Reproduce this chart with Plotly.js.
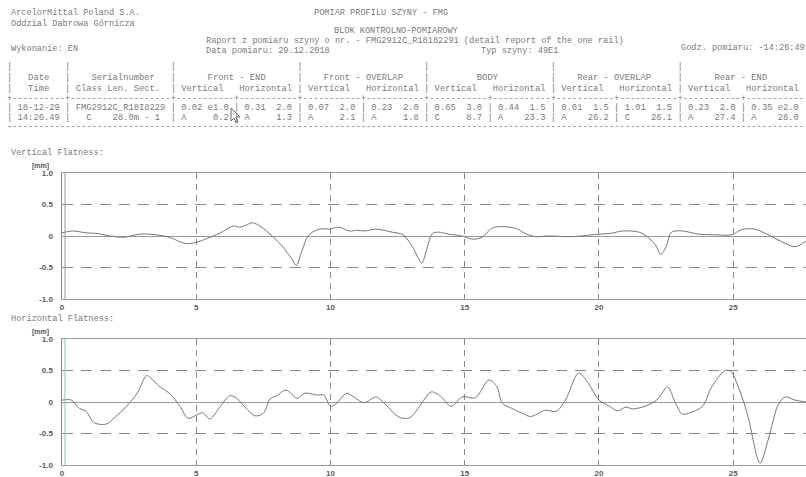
<!DOCTYPE html>
<html><head><meta charset="utf-8">
<script src="https://cdn.plot.ly/plotly-3.0.1.min.js"></script>
<style>html,body{margin:0;padding:0;background:#fff}#chart{width:806px;height:477px}</style>
</head><body><div id="chart"></div>
<script>
// ---------- data ----------
const vertX = [0.0,0.4,0.9,1.3,1.8,2.3,2.9,3.5,4.0,4.6,5.0,5.4,5.9,6.4,6.6,6.9,7.1,7.4,7.85,8.2,8.55,8.73,8.9,9.2,9.6,10.0,10.3,10.7,11.0,11.3,11.7,12.3,12.7,13.05,13.4,13.55,13.8,14.05,14.4,14.9,15.3,15.65,16.0,16.3,16.9,17.3,17.65,18.1,19.0,20.0,20.4,20.9,21.5,21.85,22.1,22.3,22.5,22.7,23.1,23.7,24.3,24.95,25.3,25.8,26.3,26.8,27.3,27.71];
const vertY = [0.05,0.08,0.05,0.04,0.00,-0.02,0.03,0.02,-0.02,-0.12,-0.10,-0.04,0.05,0.16,0.14,0.18,0.21,0.15,-0.01,-0.16,-0.36,-0.47,-0.28,0.02,0.11,0.11,0.14,0.08,0.09,0.08,0.11,0.06,0.02,-0.17,-0.43,-0.26,0.04,0.06,0.03,0.00,-0.05,-0.02,0.12,0.15,0.12,0.03,-0.01,0.00,-0.01,0.03,0.04,0.08,0.06,-0.03,-0.14,-0.29,-0.17,0.06,0.08,0.03,0.02,0.02,0.10,0.11,0.02,-0.09,-0.17,-0.08];
const horX = [0.0,0.35,0.65,0.9,1.2,1.65,1.95,2.4,2.8,3.15,3.3,3.65,4.0,4.4,4.7,5.0,5.25,5.5,5.9,6.25,6.5,6.9,7.2,7.5,7.75,8.0,8.35,8.75,9.05,9.5,9.75,10.0,10.2,10.6,10.8,11.25,11.7,12.05,12.55,12.95,13.3,13.75,14.1,14.5,14.9,15.4,15.9,16.2,16.4,16.75,17.15,17.45,18.0,18.4,18.75,19.25,19.6,20.0,20.4,20.7,21.0,21.25,21.75,22.2,22.55,22.85,23.1,23.4,23.85,24.2,24.7,24.9,25.3,25.55,26.0,26.3,26.7,26.95,27.3,27.71];
const horY = [0.03,0.03,-0.10,-0.15,-0.33,-0.35,-0.25,-0.07,0.14,0.42,0.38,0.24,0.14,-0.07,-0.26,-0.21,-0.17,-0.27,-0.07,0.10,0.06,-0.12,-0.22,-0.18,0.05,0.10,0.19,0.06,0.14,0.11,0.11,-0.07,-0.03,0.14,0.10,-0.01,0.08,-0.04,-0.24,-0.25,-0.08,0.16,0.09,-0.07,0.08,0.07,0.35,0.24,-0.02,-0.10,-0.18,-0.23,-0.13,-0.15,0.03,0.46,0.30,0.03,-0.07,-0.14,-0.08,-0.11,-0.06,0.05,0.24,-0.02,-0.19,-0.17,-0.07,0.24,0.50,0.49,0.11,-0.23,-0.97,-0.60,-0.02,0.08,0.03,0.00];

const xTickVals = [0,5,10,15,20,25];
const xTickText = ['0','5','10','15','20','25'];
const yTickVals = [1,0.5,0,-0.5,-1];
const yTickText = ['1.0','0.5','0','-0.5','-1.0'];

const headerLeft = ['ArcelorMittal Poland S.A.','Oddzial Dabrowa Górnicza'];
const reportTitle = 'POMIAR PROFILU SZYNY - FMG';
const blockTitle = 'BLOK KONTROLNO-POMIAROWY';
const reportLine = 'Raport z pomiaru szyny o nr. - FMG2912C_R18182291 (detail report of the one rail)';
const dateLine = 'Data pomiaru: 29.12.2018';
const railType = 'Typ szyny: 49E1';
const executed = 'Wykonanie: EN';
const hourLine = 'Godz. pomiaru: -14:26:49';

const groupNames = ['Front - END','Front - OVERLAP','BODY','Rear - OVERLAP','Rear - END'];
const row1Cells = ['0.02 e1.0','0.31  2.0','0.07  2.0','0.23  2.0','0.65  3.0','0.44  1.5','0.01  1.5','1.01  1.5','0.23  2.0','0.35 e2.0'];
const row2Cells = ['A     0.2','A     1.3','A     2.1','A     1.8','C     8.7','A    23.3','A    26.2','C    26.1','A    27.4','A    28.0'];
const row1Lead = ['18-12-29','FMG2912C_R18I8229'];
const row2Lead = ['14:26.49','C    28.0m - 1'];

// ---------- helpers ----------
const W = 806, H = 477;
const GREY = '#7a7a7a';
function center(s, w){ const l = Math.floor((w - s.length)/2); return ' '.repeat(l) + s + ' '.repeat(w - s.length - l); }
function nb(s){ return s.replace(/ /g,'\u00a0'); }
function ann(text, x, y, size){
  return {xref:'paper', yref:'paper', x:x/W, y:1-y/H, text:nb(text), showarrow:false,
    xanchor:'left', yanchor:'middle', borderpad:0,
    font:{family:'Liberation Mono, DejaVu Sans Mono, monospace', size:size||8.8, color:GREY}};
}
function sep(ch){
  let s = ch + '-'.repeat(10) + ch + '-'.repeat(19);
  for (let i=0;i<10;i++) s += ch + '-'.repeat(11);
  return s;
}

const tickRow = '|' + ' '.repeat(10) + '|' + ' '.repeat(19) + ('|' + ' '.repeat(23)).repeat(5);
let head1 = '|' + center('Date',10) + '|' + '    Serialnumber   ';
groupNames.forEach(g => head1 += '|' + center(g,23));
let head2 = '|' + center('Time',10) + '|' + ' Class Len. Sect.  ';
groupNames.forEach(() => head2 += '| Vertical   Horizontal ');
let data1 = '| ' + row1Lead[0] + ' | ' + row1Lead[1] + ' ';
row1Cells.forEach(c => data1 += '| ' + c + ' ');
let data2 = '| ' + row2Lead[0] + ' |   ' + row2Lead[1] + '  ';
row2Cells.forEach(c => data2 += '| ' + c + ' ');

const annotations = [
  ann(headerLeft[0], 10, 13, 8.6),
  ann(headerLeft[1], 10, 24, 8.6),
  ann(reportTitle, 313, 13, 8.6),
  ann(blockTitle, 333, 31, 8.6),
  ann(reportLine, 205, 41, 8.6),
  ann(dateLine, 205, 51, 8.6),
  ann(railType, 480, 51, 8.6),
  ann(executed, 10, 49, 8.6),
  ann(hourLine, 680, 48, 8.6),
  ann(tickRow, 6, 67), ann(head1, 6, 78), ann(head2, 6, 89), ann(sep('+'), 6, 99),
  ann(data1, 6, 108), ann(data2, 6, 118), ann(sep('-'), 6, 127),
  ann('Vertical Flatness:', 10, 153, 8.6),
  ann('Horizontal Flatness:', 10, 319, 8.6),
  {xref:'paper',yref:'paper',x:30/W,y:1-166/H,text:'[mm]',showarrow:false,xanchor:'left',yanchor:'middle',
   font:{family:'Liberation Sans, Arial',size:7,color:'#555',weight:'bold'}},
  {xref:'paper',yref:'paper',x:30/W,y:1-332/H,text:'[mm]',showarrow:false,xanchor:'left',yanchor:'middle',
   font:{family:'Liberation Sans, Arial',size:7,color:'#555',weight:'bold'}}
];

const tickFont = {family:'Liberation Sans, Arial', size:8, color:'#5a5a5a', weight:'bold'};
function xAxis(anchor){
  return {domain:[62/W,1], range:[0,27.71], anchor:anchor, tickvals:xTickVals, ticktext:xTickText,
    showgrid:true, gridcolor:'#8a8a8a', griddash:'6px,5px', gridwidth:1,
    showline:true, mirror:true, linecolor:'#9a9a9a', linewidth:1, zeroline:false,
    ticks:'', tickfont:tickFont, fixedrange:true};
}
function yAxis(anchor, dom){
  return {domain:dom, range:[-1,1], anchor:anchor, tickvals:yTickVals, ticktext:yTickText,
    showgrid:true, gridcolor:'#8a8a8a', griddash:'11px,8px', gridwidth:1,
    zeroline:true, zerolinecolor:'#9a9a9a', zerolinewidth:1,
    showline:true, linecolor:'#888', linewidth:1.5, ticks:'', tickfont:tickFont,
    ticklabelstandoff:6, fixedrange:true};
}

const traces = [
  {x:vertX, y:vertY, xaxis:'x', yaxis:'y', mode:'lines', line:{color:'#777', width:1, shape:'spline', smoothing:0.9}, hoverinfo:'skip'},
  {x:horX, y:horY, xaxis:'x2', yaxis:'y2', mode:'lines', line:{color:'#777', width:1, shape:'spline', smoothing:0.9}, hoverinfo:'skip'}
];

const shapes = [
  {type:'line', xref:'paper', yref:'paper', x0:65/W, x1:65/W, y0:1-299/H, y1:1-173/H, line:{color:'#999', width:1}},
  {type:'line', xref:'paper', yref:'paper', x0:65/W, x1:65/W, y0:1-465/H, y1:1-339/H, line:{color:'#7cc9c9', width:1}},
  {type:'path', xref:'paper', yref:'paper',
   path:(function(){const pts=[[231,108],[231,121],[234,118],[236,123],[238,122],[236,117],[240,117]];
     return 'M'+pts.map(p=>(p[0]/W)+','+(1-p[1]/H)).join(' L')+' Z';})(),
   fillcolor:'#fff', line:{color:'#666', width:1}}
];

const layout = {
  width:W, height:H, margin:{l:0,r:0,t:0,b:0}, paper_bgcolor:'#fff', plot_bgcolor:'#fff',
  showlegend:false,
  xaxis:xAxis('y'), yaxis:yAxis('x',[1-299/H,1-173/H]),
  xaxis2:xAxis('y2'), yaxis2:yAxis('x2',[1-465/H,1-339/H]),
  annotations:annotations, shapes:shapes
};
Plotly.newPlot('chart', traces, layout, {displayModeBar:false, staticPlot:true});
</script></body></html>
